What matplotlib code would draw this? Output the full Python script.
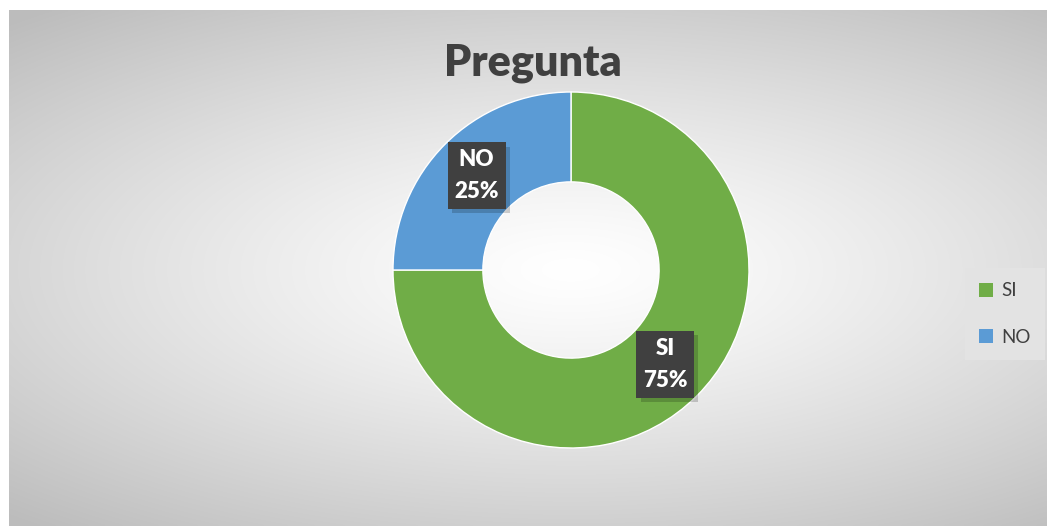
import numpy as np
import matplotlib
matplotlib.use("Agg")
import matplotlib.pyplot as plt
import matplotlib.patheffects as pe

plt.rcParams['font.family'] = ['Lato', 'DejaVu Sans']

# datos
categorias = ["SI", "NO"]
valores = [75, 25]
colores = ["#70AD47", "#5B9BD5"]
titulo = "Pregunta"

W, H = 1047, 526
fig = plt.figure(figsize=(W / 100, H / 100), dpi=100)
fig.patch.set_facecolor("white")

# fondo con degradado radial (zona del grafico)
bg = fig.add_axes([9 / W, 0, (W - 9) / W, (H - 10) / H])
bg.set_axis_off()
xx, yy = np.meshgrid(np.linspace(-1, 1, 400), np.linspace(-1, 1, 200))
cx, cy = (571 - 9) / (W - 9) * 2 - 1, (1 - (270 - 10) / (H - 10)) * 2 - 1
d = np.sqrt(((xx - cx) / 1.6) ** 2 + ((yy - cy) / 1.3) ** 2)
d = np.clip(d, 0, 1)
val = 1.0 - 0.26 * d ** 1.25
img = np.dstack([val, val, val])
bg.imshow(img, extent=[-1, 1, -1, 1], aspect="auto", origin="lower", interpolation="bilinear")
bg.set_xlim(-1, 1)
bg.set_ylim(-1, 1)

# anillo
r = 178
ax = fig.add_axes([(571 - r) / W, (H - 270 - r) / H, 2 * r / W, 2 * r / H])
ax.set_axis_off()
wedges, _ = ax.pie(valores, colors=colores, startangle=90, counterclock=False,
                   radius=1.0, wedgeprops=dict(width=0.505, edgecolor="white", linewidth=1))
ax.set_xlim(-1, 1)
ax.set_ylim(-1, 1)

# etiquetas de datos
total = sum(valores)
ang0 = 90
for cat, v in zip(categorias, valores):
    mid = np.deg2rad(ang0 - v / total * 360 / 2)
    ang0 -= v / total * 360
    rr = 0.75
    t = ax.text(rr * np.cos(mid), rr * np.sin(mid), f"{cat}\n{v}%",
                ha="center", va="center", color="white", fontsize=16,
                fontweight="heavy", linespacing=1.65, zorder=5,
                bbox=dict(boxstyle="square,pad=0.3", facecolor="#404040", edgecolor="none"))
    t.get_bbox_patch().set_path_effects([
        pe.SimplePatchShadow(offset=(3, -3), shadow_rgbFace="black", alpha=0.18),
        pe.Normal()])

fig.text(533 / W, 1 - 63 / H, titulo, ha="center", va="center",
         fontsize=31, fontweight="heavy", color="#404040")

leg = fig.legend(wedges, categorias, loc="center", bbox_to_anchor=(1005 / W, 1 - 314 / H),
                 frameon=True, fontsize=13.5, handlelength=0.75, handleheight=0.75,
                 handletextpad=0.45, labelspacing=1.55, borderpad=0.75, borderaxespad=0,
                 fancybox=False)
leg.get_frame().set_facecolor("#e3e3e3")
leg.get_frame().set_edgecolor("none")
leg.get_frame().set_alpha(1)
for txt in leg.get_texts():
    txt.set_color("#404040")
for h in leg.legend_handles:
    h.set_edgecolor("none")

fig.savefig("out.png", dpi=100)
